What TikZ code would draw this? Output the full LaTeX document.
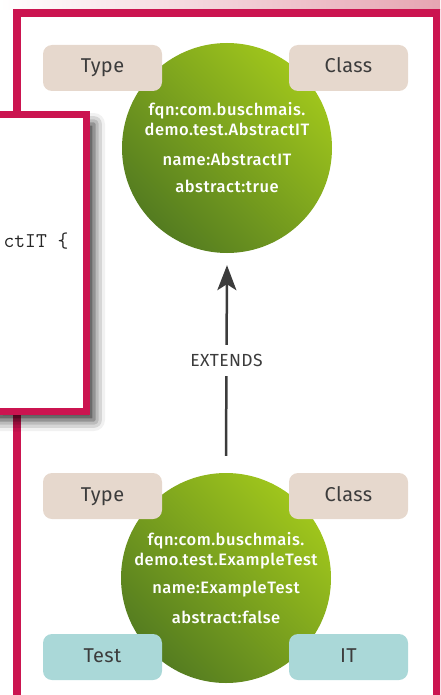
\documentclass[tikz,border=0pt]{standalone}
\usepackage{fontspec}
\setmainfont{Fira Sans}[LetterSpace=2]
\newfontfamily\entityfont{Fira Sans}[UprightFont={* Medium}, LetterSpace=3]
\usepackage{xcolor}
\usetikzlibrary{arrows.meta,shadows.blur}

\definecolor{crimson}{RGB}{203,20,80}
\definecolor{stripe}{RGB}{230,165,178}
\definecolor{leaflight}{RGB}{160,198,28}
\definecolor{leafdark}{RGB}{84,124,32}
\definecolor{typefill}{RGB}{230,216,205}
\definecolor{testfill}{RGB}{170,216,216}
\definecolor{ink}{RGB}{60,60,60}

\begin{document}
\begin{tikzpicture}[x=1pt, y=-1pt]
    % Define styles
    \tikzstyle{entity} = [circle, minimum size=210pt, inner sep=0pt, text=white, align=center, font=\entityfont\fontsize{16.5}{20}\selectfont, top color=leaflight, bottom color=leafdark, shading angle=-45]
    \tikzstyle{typebox} = [rectangle, rounded corners=9pt, minimum width=119pt, minimum height=46pt, text height=14pt, text depth=4pt, fill=typefill, text=ink, font=\fontsize{20}{22}\selectfont]
    \tikzstyle{testbox} = [typebox, fill=testfill]
    \tikzstyle{codebox} = [rectangle, minimum width=96pt, minimum height=296pt, draw=crimson, line width=7pt, fill=white, blur shadow={shadow xshift=8pt, shadow yshift=-9pt, shadow blur radius=11pt, shadow opacity=85}]
    \tikzstyle{arrow} = [line width=2.5pt, draw=ink, -{Stealth[length=25pt, width=19pt, inset=6pt]}]

    \useasboundingbox (0,0) rectangle (440,695);
    \begin{scope}
    \clip (0,0) rectangle (440,695);
    % Background
    \shade[left color=white, right color=stripe] (0,0) rectangle (440,10);
    \draw[crimson, line width=8pt] (17,13) rectangle (437,720);

    % Code listing
    \node[codebox] (code) at (38,263) {};
    \node[anchor=base east, font=\ttfamily\fontsize{21}{24}\selectfont, text=black!85] (codeline) at (72,247) {ctIT \{};
    \end{scope}

    % Nodes
    \node[entity] (abstract) at (227,148) {fqn:com.buschmais.\\demo.test.AbstractIT\\[10pt]name:AbstractIT\\[7pt]abstract:true};
    \node[entity] (example) at (226,578) {fqn:com.buschmais.\\demo.test.ExampleTest\\[8pt]name:ExampleTest\\[10pt]abstract:false};

    \node[typebox] (type1) at (102.5,68) {Type};
    \node[typebox] (class1) at (348.5,68) {Class};
    \node[typebox] (type2) at (102.5,496) {Type};
    \node[typebox] (class2) at (348.5,496) {Class};
    \node[testbox] (test) at (102.5,657) {Test};
    \node[testbox] (it) at (348.5,657) {IT};

    % Arrows
    \draw[arrow] ([yshift=17pt]example.north) -- node[fill=white, text=ink, inner xsep=2pt, inner ysep=9pt, font=\fontsize{17.5}{20}\selectfont] (extends) {EXTENDS} ([yshift=-12pt]abstract.south);
\end{tikzpicture}
\end{document}
